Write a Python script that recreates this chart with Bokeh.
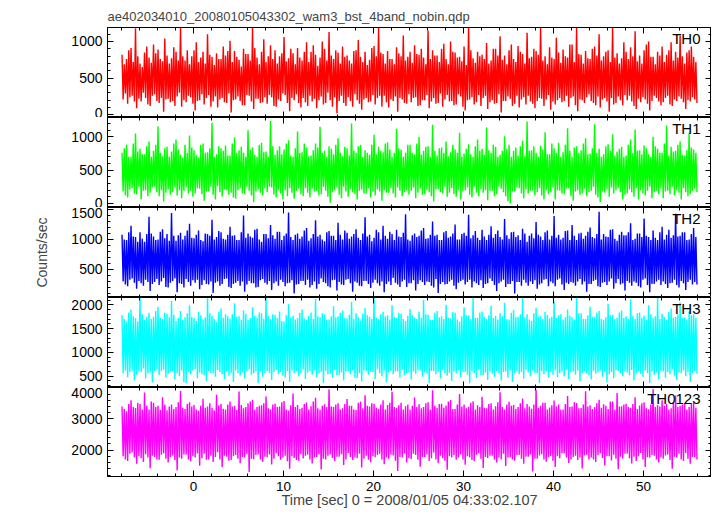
import numpy as np
from bokeh.plotting import figure
from bokeh.layouts import column
from bokeh.models import (Range1d, LinearAxis, SingleIntervalTicker, Label,
                          ColumnDataSource, InlineStyleSheet)
from bokeh.embed import file_html
from bokeh.resources import INLINE

title_text = "ae402034010_20080105043302_wam3_bst_4band_nobin.qdp"
x_label = "Time [sec] 0 = 2008/01/05 04:33:02.107"
y_label = "Counts/sec"
panel_names = ["TH0", "TH1", "TH2", "TH3", "TH0123"]
panel_colors = ["#ff0000", "#00ff00", "#0000ff", "#00ffff", "#ff00ff"]
t_first = -7.9375  # time of first sample of the light curve (s)
t_step = 0.125     # samples alternate: local maximum, local minimum

# local maxima / minima of each light curve in successive 0.25 s slices (counts/sec)
th0_hi = [820, 690, 760, 880, 910, 720, 1180, 800, 700, 650, 850, 930, 780, 710, 960, 840,
          890, 760, 730, 1040, 810, 700, 770, 920, 860, 740, 1190, 800, 740, 880, 690, 800,
          880, 990, 720, 780, 860, 700, 1100, 820, 790, 680, 840, 760, 760, 930, 810, 870,
          1010, 720, 870, 790, 750, 660, 900, 830, 830, 740, 1190, 910, 780, 690, 860, 1030,
          720, 800, 950, 760, 880, 700, 800, 840, 1060, 730, 770, 900, 840, 690, 910, 780,
          740, 860, 990, 720, 860, 950, 820, 670, 780, 1000, 900, 740, 1130, 810, 760, 880,
          850, 700, 930, 790, 810, 740, 700, 870, 880, 1020, 790, 720, 860, 680, 750, 910,
          940, 800, 1190, 850, 830, 700, 870, 760, 760, 690, 920, 840, 800, 1080, 740, 790,
          860, 710, 950, 830, 820, 900, 780, 690, 1150, 760, 880, 810, 810, 720, 900, 970,
          760, 690, 1000, 860, 850, 780, 790, 730, 930, 680, 1190, 880, 770, 710, 860, 800,
          820, 760, 980, 700, 740, 900, 900, 810, 1070, 750, 810, 690, 880, 960, 760, 720,
          940, 860, 830, 700, 1120, 770, 790, 900, 870, 820, 1190, 740, 800, 690, 920, 780,
          760, 1050, 850, 710, 890, 800, 780, 960, 960, 720, 1190, 830, 820, 700, 870, 770,
          760, 900, 930, 810, 1100, 740, 800, 860, 880, 720, 1190, 780, 840, 700, 770, 990,
          860, 760, 920, 800, 1140, 730, 810, 700, 880, 960, 1000, 790, 790, 690, 860, 810,
          930, 720, 820, 880, 990, 740, 860, 780, 1080, 800, 700, 850, 880, 930, 790, 720]
th0_lo = [210, 290, 150, 240, 260, 180, 90, 220, 180, 300, 230, 140, 120, 260, 280, 190,
          160, 230, 40, 210, 220, 170, 190, 120, 250, 300, 110, 200, 170, 260, 240, 150,
          60, 190, 200, 280, 140, 230, 270, 110, 180, 250, 100, 210, 230, 170, 160, 290,
          30, 200, 210, 250, 190, 130, 130, 270, 260, 180, 80, 220, 220, 160, 170, 240,
          150, 270, 240, 120, 110, 210, 190, 290, 270, 160, 50, 230, 200, 280, 160, 100,
          230, 170, 120, 260, 180, 220, 90, 200, 250, 140, 160, 300, 200, 110, 240, 20,
          190, 260, 160, 120, 240, 190, 110, 280, 200, 150, 70, 210, 230, 170, 180, 270,
          140, 230, 260, 110, 260, 170, 100, 210, 190, 250, 40, 230, 210, 160, 150, 280,
          170, 230, 240, 120, 130, 200, 200, 270, 90, 180, 230, 150, 160, 290, 110, 210,
          270, 180, 190, 130, 140, 280, 250, 110, 60, 200, 210, 240, 140, 170, 270, 120,
          230, 260, 80, 170, 200, 150, 160, 280, 30, 190, 190, 250, 220, 120, 150, 260,
          100, 210, 240, 140, 260, 180, 150, 90, 190, 230, 220, 120, 210, 270, 70, 180,
          140, 200, 230, 170, 190, 260, 110, 230, 250, 130, 50, 210, 200, 160, 240, 280,
          190, 160, 130, 250, 100, 210, 230, 180, 40, 230, 140, 160, 250, 200, 130, 270,
          200, 260, 180, 120, 80, 220, 170, 240, 210, 150, 60, 190, 260, 230, 180, 130,
          170, 230, 260, 140, 120, 210, 190, 250, 220, 170, 80, 200, 180, 240, 210, 160]
th1_hi = [760, 830, 880, 700, 700, 900, 1050, 780, 820, 740, 740, 860, 930, 700, 790, 880,
          1160, 760, 710, 830, 850, 700, 780, 900, 960, 810, 730, 690, 880, 760, 1020, 840,
          800, 720, 690, 880, 900, 760, 770, 830, 1210, 700, 740, 860, 830, 790, 870, 720,
          720, 900, 990, 760, 800, 850, 760, 700, 1100, 810, 840, 730, 700, 880, 910, 770,
          780, 700, 1240, 860, 730, 800, 860, 740, 810, 900, 950, 720, 700, 830, 1080, 760,
          770, 900, 840, 710, 720, 800, 900, 840, 1150, 760, 790, 700, 860, 820, 740, 880,
          980, 760, 710, 850, 830, 720, 1200, 790, 760, 860, 880, 700, 800, 760, 730, 880,
          1030, 740, 850, 790, 770, 900, 920, 810, 700, 760, 1120, 830, 810, 700, 760, 880,
          880, 760, 740, 900, 1000, 730, 790, 850, 860, 700, 1180, 790, 720, 830, 840, 760,
          930, 710, 770, 880, 810, 760, 1060, 700, 750, 820, 890, 740, 700, 860, 960, 790,
          820, 730, 1140, 800, 760, 880, 850, 700, 730, 790, 1010, 820, 880, 700, 790, 840,
          720, 860, 940, 710, 1230, 790, 800, 860, 760, 700, 870, 810, 1070, 740, 740, 900,
          830, 760, 910, 700, 770, 880, 1130, 790, 700, 840, 860, 760, 800, 900, 980, 740,
          750, 830, 1190, 760, 820, 700, 740, 860, 890, 790, 1040, 720, 780, 820, 850, 700,
          720, 880, 960, 760, 1110, 790, 800, 740, 870, 830, 740, 700, 1000, 860, 820, 760,
          760, 900, 1170, 720, 850, 780, 790, 880, 930, 730, 720, 800, 1060, 840, 810, 760]
th1_lo = [180, 120, 90, 210, 230, 150, 140, 250, 60, 190, 200, 110, 160, 240, 250, 170,
          110, 200, 30, 160, 210, 130, 170, 240, 120, 200, 80, 190, 240, 150, 190, 100,
          150, 230, 220, 140, 40, 180, 180, 250, 130, 60, 260, 170, 100, 210, 200, 130,
          160, 90, 70, 200, 230, 150, 140, 250, 190, 120, 20, 180, 210, 160, 120, 230,
          170, 250, 240, 130, 90, 200, 150, 60, 200, 110, 230, 160, 70, 190, 220, 140,
          110, 230, 160, 90, 220, 180, 190, 120, 140, 250, 190, 100, 10, 170, 200, 240,
          130, 80, 250, 180, 100, 210, 170, 140, 60, 190, 210, 150, 150, 230, 90, 180,
          120, 210, 180, 40, 200, 160, 160, 230, 150, 90, 240, 190, 110, 170, 200, 130,
          190, 240, 80, 160, 220, 130, 140, 200, 170, 110, 30, 210, 210, 170, 150, 250,
          100, 160, 230, 140, 100, 200, 60, 180, 200, 240, 130, 90, 250, 160, 110, 210,
          160, 200, 50, 190, 190, 110, 140, 250, 220, 170, 110, 30, 0, 180, 180, 240,
          230, 150, 80, 210, 150, 190, 200, 120, 170, 230, 120, 60, 200, 140, 170, 240,
          60, 200, 190, 150, 140, 220, 230, 110, 40, 180, 200, 130, 150, 220, 110, 170,
          190, 250, 130, 90, 20, 180, 160, 210, 100, 240, 150, 200, 230, 170, 60, 130,
          150, 210, 170, 100, 230, 60, 200, 150, 120, 190, 250, 80, 170, 190, 140, 220,
          80, 180, 190, 140, 250, 120, 200, 160, 60, 230, 170, 110, 140, 190, 220, 170]
th2_hi = [1080, 1000, 990, 1120, 1230, 1050, 1040, 960, 1120, 1010, 960, 1090, 1380, 1100, 1050, 990,
          1000, 1130, 1170, 1020, 1090, 980, 1440, 1060, 980, 1070, 1110, 1000, 1060, 1150, 1260, 1030,
          1020, 1080, 1150, 990, 970, 1100, 1090, 1060, 1330, 1000, 1040, 1140, 1120, 1010, 1000, 1080,
          1210, 1060, 1070, 990, 990, 1120, 1400, 1030, 1100, 1050, 1030, 1160, 1180, 1000, 960, 1090,
          1090, 1020, 1240, 1070, 1010, 1130, 1130, 990, 1060, 1100, 1450, 1040, 990, 1080, 1100, 1010,
          1050, 1150, 1190, 980, 1020, 1090, 1320, 1050, 1080, 1000, 970, 1120, 1140, 1060, 1060, 990,
          1280, 1080, 1000, 1150, 1110, 1010, 1050, 1090, 1170, 1030, 990, 1100, 1370, 1050, 1080, 970,
          1030, 1160, 1120, 1000, 1230, 1060, 1010, 1130, 1090, 990, 1160, 1050, 1040, 1110, 1420, 1000,
          980, 1070, 1100, 1040, 1060, 1150, 1190, 1010, 1020, 1080, 1300, 1060, 1080, 990, 990, 1120,
          1140, 1030, 1050, 1100, 1250, 1000, 1000, 1090, 1110, 1060, 1410, 1020, 1070, 1140, 1030, 990,
          1160, 1050, 990, 1080, 1220, 1030, 1090, 1150, 1040, 1000, 1340, 1070, 1010, 1120, 1130, 1040,
          1070, 990, 1180, 1100, 960, 1060, 1100, 1020, 1290, 1080, 1050, 990, 1120, 1150, 1000, 1060,
          1390, 1030, 1080, 1000, 1030, 1140, 1150, 990, 1240, 1060, 990, 1100, 1110, 1010, 1060, 1130,
          1200, 1040, 1020, 1090, 1460, 1000, 1090, 1050, 1040, 1160, 1170, 1010, 980, 1080, 1130, 1070,
          1070, 1120, 1270, 990, 1010, 1100, 1100, 1040, 1350, 1060, 1040, 990, 1150, 1030, 990, 1120,
          1210, 1000, 1080, 1160, 1030, 1070, 1430, 1050, 1060, 1120, 1120, 990, 1000, 1090, 1190, 1040]
th2_lo = [300, 250, 220, 330, 350, 280, 180, 310, 270, 230, 330, 290, 140, 260, 290, 340,
          240, 300, 360, 210, 200, 280, 310, 350, 120, 270, 260, 200, 340, 290, 230, 320,
          280, 330, 170, 240, 320, 260, 250, 300, 110, 280, 300, 230, 260, 340, 350, 210,
          190, 260, 280, 310, 230, 300, 130, 250, 310, 270, 270, 200, 210, 320, 340, 280,
          250, 310, 160, 270, 300, 230, 330, 290, 220, 270, 280, 320, 100, 250, 260, 310,
          310, 240, 330, 200, 240, 300, 180, 260, 350, 290, 270, 220, 200, 320, 330, 150,
          290, 250, 240, 330, 340, 270, 130, 300, 280, 230, 220, 310, 310, 260, 190, 280,
          330, 270, 230, 300, 120, 260, 300, 240, 360, 280, 250, 210, 300, 330, 210, 270,
          270, 320, 150, 260, 320, 290, 240, 300, 290, 230, 200, 340, 110, 260, 290, 250,
          260, 300, 330, 230, 170, 280, 310, 330, 250, 290, 330, 200, 300, 270, 240, 320,
          190, 260, 270, 350, 310, 240, 140, 270, 300, 330, 210, 260, 260, 310, 100, 290,
          290, 230, 330, 280, 230, 300, 260, 320, 180, 250, 270, 330, 340, 220, 300, 270,
          220, 330, 350, 250, 160, 280, 260, 290, 280, 230, 300, 340, 250, 300, 130, 260,
          260, 310, 330, 220, 210, 280, 290, 240, 300, 350, 180, 270, 340, 250, 270, 150,
          310, 280, 230, 300, 280, 220, 200, 330, 350, 240, 120, 260, 260, 300, 330, 240,
          300, 260, 190, 270, 280, 330, 240, 200, 310, 270, 160, 290, 330, 250, 290, 250]
th3_hi = [1780, 1700, 1650, 1840, 1900, 1760, 1720, 1650, 2150, 1800, 1680, 1750, 1830, 1700, 1750, 1870,
          1960, 1720, 1700, 1830, 1810, 1740, 2080, 1790, 1660, 1720, 1870, 1680, 1740, 1820, 1990, 1750,
          1720, 1660, 1850, 1780, 1690, 1740, 2150, 1820, 1770, 1700, 1640, 1850, 1920, 1730, 1800, 1760,
          1710, 1800, 2030, 1750, 1760, 1680, 1880, 1810, 1680, 1720, 1950, 1770, 1730, 1840, 1820, 1700,
          2150, 1760, 1700, 1800, 1790, 1720, 1860, 1660, 1650, 1780, 2010, 1740, 1770, 1690, 1720, 1830,
          1900, 1710, 1680, 1770, 1840, 1700, 2120, 1760, 1740, 1820, 1800, 1680, 1690, 1760, 1970, 1740,
          1760, 1830, 1880, 1720, 1710, 1790, 2060, 1700, 1820, 1740, 1670, 1810, 1930, 1780, 1750, 1700,
          2150, 1730, 1700, 1800, 1850, 1760, 1780, 1690, 1990, 1750, 1720, 1830, 1810, 1700, 1660, 1770,
          1910, 1780, 1740, 1700, 1860, 1720, 2100, 1800, 1790, 1680, 1680, 1830, 1870, 1740, 1760, 1700,
          2000, 1730, 1710, 1850, 1830, 1690, 1650, 1760, 1950, 1780, 1780, 1700, 2150, 1720, 1730, 1840,
          1860, 1750, 1700, 1780, 1980, 1720, 1770, 1690, 1820, 1760, 2040, 1700, 1690, 1830, 1890, 1740,
          1750, 1800, 2150, 1740, 1800, 1690, 1660, 1820, 1940, 1760, 1760, 1700, 1850, 1790, 1710, 1750,
          2070, 1720, 1780, 1800, 1690, 1740, 1900, 1770, 1740, 1690, 2150, 1820, 1820, 1700, 1700, 1780,
          1960, 1750, 1750, 1830, 1870, 1700, 1680, 1740, 2020, 1780, 1790, 1700, 1730, 1840, 1880, 1720,
          1760, 1700, 2110, 1760, 1700, 1820, 1840, 1730, 1770, 1680, 1990, 1800, 1720, 1760, 2150, 1700,
          1810, 1740, 1690, 1850, 1920, 1730, 1750, 1800, 2050, 1720, 1740, 1690, 1860, 1780, 1800, 1730]
th3_lo = [560, 620, 480, 590, 620, 410, 530, 600, 590, 660, 450, 560, 580, 370, 610, 640,
          520, 610, 640, 470, 550, 600, 600, 430, 570, 500, 620, 380, 360, 590, 540, 620,
          650, 460, 580, 540, 520, 400, 610, 570, 560, 490, 630, 590, 540, 440, 600, 510,
          570, 380, 620, 560, 510, 580, 450, 600, 640, 530, 560, 610, 350, 600, 490, 560,
          610, 570, 420, 590, 630, 540, 590, 510, 470, 610, 380, 620, 560, 600, 500, 570,
          640, 440, 580, 610, 530, 620, 480, 560, 590, 360, 610, 540, 550, 470, 630, 520,
          520, 580, 410, 600, 600, 540, 620, 470, 460, 570, 390, 620, 610, 530, 590, 590,
          440, 640, 560, 500, 620, 370, 580, 610, 540, 600, 600, 470, 630, 520, 560, 580,
          430, 600, 550, 620, 620, 490, 580, 550, 360, 610, 610, 540, 590, 450, 630, 560,
          510, 570, 400, 600, 560, 620, 480, 590, 590, 530, 350, 610, 570, 460, 640, 520,
          520, 580, 420, 600, 550, 490, 610, 560, 410, 590, 600, 470, 620, 380, 570, 610,
          540, 590, 450, 630, 580, 500, 620, 570, 560, 360, 610, 540, 600, 470, 590, 530,
          620, 480, 560, 600, 500, 640, 440, 580, 600, 530, 620, 390, 570, 610, 560, 520,
          430, 610, 550, 580, 620, 490, 600, 370, 540, 590, 460, 620, 610, 560, 500, 600,
          580, 520, 630, 410, 560, 600, 550, 490, 620, 570, 360, 600, 530, 580, 440, 610,
          600, 470, 590, 540, 640, 510, 420, 580, 560, 620, 500, 590, 380, 570, 610, 550]
th0123_hi = [3400, 3320, 3250, 3480, 3600, 3380, 3350, 3520, 3480, 3300, 3850, 3420, 3300, 3560, 3520, 3380,
             3420, 3290, 3700, 3460, 3280, 3400, 3460, 3320, 3380, 3540, 3900, 3360, 3320, 3480, 3540, 3400,
             3450, 3300, 3260, 3420, 3650, 3360, 3400, 3500, 3350, 3280, 3780, 3440, 3480, 3330, 3300, 3460,
             3560, 3400, 3420, 3290, 3880, 3450, 3340, 3380, 3500, 3560, 3620, 3300, 3380, 3420, 3440, 3500,
             3720, 3340, 3310, 3460, 3490, 3380, 3400, 3540, 3580, 3300, 3270, 3440, 3820, 3380, 3450, 3320,
             3360, 3480, 3530, 3300, 3410, 3560, 3680, 3340, 3300, 3420, 3470, 3380, 3950, 3400, 3380, 3460,
             3500, 3300, 3340, 3480, 3640, 3420, 3420, 3300, 3290, 3520, 3560, 3340, 3760, 3420, 3400, 3500,
             3480, 3360, 3330, 3460, 3600, 3300, 3450, 3520, 3870, 3380, 3360, 3440, 3520, 3300, 3410, 3460,
             3300, 3420, 3690, 3380, 3470, 3340, 3380, 3500, 3540, 3300, 3920, 3420, 3350, 3480, 3490, 3360,
             3430, 3560, 3610, 3320, 3320, 3460, 3800, 3400, 3460, 3340, 3390, 3520, 3570, 3300, 3440, 3380,
             3710, 3360, 3340, 3480, 3500, 3300, 3410, 3540, 3860, 3380, 3300, 3460, 3550, 3420, 3450, 3320,
             3380, 3500, 3660, 3340, 3480, 3400, 3330, 3460, 3940, 3360, 3420, 3520, 3520, 3300, 3370, 3440,
             3590, 3400, 3460, 3300, 3300, 3480, 3740, 3380, 3400, 3540, 3510, 3340, 3350, 3460, 3890, 3400,
             3440, 3320, 3380, 3500, 3620, 3360, 3470, 3420, 3320, 3560, 3560, 3300, 3830, 3400, 3410, 3460,
             3490, 3380, 3360, 3480, 3700, 3320, 3430, 3500, 3540, 3340, 3310, 3460, 3960, 3380, 3450, 3400,
             3600, 3420, 3480, 3300, 3340, 3520, 3750, 3380, 3420, 3460, 3510, 3300, 3380, 3500, 3520, 3360]
th0123_lo = [1800, 1700, 1650, 1880, 1920, 1760, 1560, 1800, 1740, 1620, 1870, 1760, 1420, 1820, 1780, 1700,
             1690, 1850, 1900, 1720, 1600, 1780, 1830, 1680, 1350, 1760, 1720, 1860, 1850, 1700, 1640, 1800,
             1760, 1890, 1500, 1740, 1880, 1690, 1700, 1820, 1620, 1780, 1930, 1700, 1450, 1820, 1790, 1660,
             1680, 1800, 1840, 1720, 1580, 1780, 1760, 1870, 1300, 1720, 1710, 1840, 1860, 1700, 1630, 1790,
             1770, 1860, 1540, 1720, 1900, 1800, 1690, 1760, 1820, 1640, 1400, 1800, 1750, 1680, 1660, 1870,
             1730, 1820, 1850, 1700, 1570, 1760, 1780, 1860, 1380, 1720, 1700, 1820, 1860, 1750, 1640, 1790,
             1790, 1870, 1520, 1700, 1910, 1780, 1680, 1760, 1740, 1880, 1440, 1720, 1820, 1690, 1610, 1800,
             1770, 1840, 1880, 1700, 1550, 1760, 1720, 1850, 1830, 1660, 1330, 1780, 1760, 1890, 1600, 1740,
             1710, 1880, 1840, 1690, 1470, 1780, 1780, 1860, 1650, 1740, 1920, 1700, 1580, 1820, 1740, 1660,
             1370, 1800, 1760, 1840, 1690, 1760, 1860, 1700, 1530, 1800, 1770, 1680, 1640, 1850, 1900, 1720,
             1430, 1780, 1750, 1820, 1820, 1690, 1600, 1760, 1700, 1880, 1490, 1760, 1760, 1700, 1660, 1840,
             1840, 1720, 1560, 1790, 1790, 1860, 1310, 1720, 1720, 1830, 1870, 1700, 1630, 1780, 1810, 1660,
             1460, 1800, 1740, 1900, 1900, 1760, 1590, 1700, 1780, 1820, 1680, 1760, 1410, 1830, 1850, 1700,
             1760, 1700, 1620, 1840, 1890, 1750, 1510, 1800, 1800, 1670, 1850, 1720, 1390, 1790, 1730, 1880,
             1880, 1740, 1570, 1790, 1650, 1800, 1910, 1700, 1460, 1770, 1760, 1840, 1820, 1700, 1600, 1760,
             1720, 1830, 1860, 1680, 1400, 1790, 1760, 1880, 1700, 1650, 1910, 1720, 1560, 1780, 1770, 1700]

panel_hi = [th0_hi, th1_hi, th2_hi, th3_hi, th0123_hi]
panel_lo = [th0_lo, th1_lo, th2_lo, th3_lo, th0123_lo]

# layout / style
FONT = "Liberation Sans"
X_RANGE = (-9.55, 57.55)
Y_RANGES = [(-37, 1191), (-60, 1290), (33, 1533), (263, 2153), (1153, 4010)]
Y_MAJOR = [500, 500, 500, 500, 1000]
FRAME_W = 604
FRAME_H = [90, 90, 90, 90, 89]

css = InlineStyleSheet(css=":host, .bk-Canvas, .bk-layer, svg { overflow: visible !important; }")

x_range = Range1d(*X_RANGE)
x_ticker = SingleIntervalTicker(interval=10, num_minor_ticks=5)


def style_axis(ax, show_labels, size="13px"):
    ax.major_tick_in = 6
    ax.major_tick_out = 0
    ax.minor_tick_in = 3
    ax.minor_tick_out = 0
    ax.axis_line_color = "black"
    ax.major_tick_line_color = "black"
    ax.minor_tick_line_color = "black"
    if show_labels:
        ax.major_label_text_font = FONT
        ax.major_label_text_font_size = size
        ax.major_label_text_color = "black"
    else:
        ax.major_label_text_font_size = "1px"
        ax.major_label_text_color = None
        ax.major_label_standoff = 0


figs = []
n = len(panel_names)
for i in range(n):
    hi = np.asarray(panel_hi[i], dtype=float)
    lo = np.asarray(panel_lo[i], dtype=float)
    rate = np.empty(2 * len(hi))
    rate[0::2] = hi
    rate[1::2] = lo
    t = t_first + t_step * np.arange(len(rate))
    src = ColumnDataSource(dict(time=t, rate=rate))

    first = i == 0
    last = i == n - 1
    p = figure(frame_width=FRAME_W, frame_height=FRAME_H[i],
               x_range=x_range, y_range=Range1d(*Y_RANGES[i]),
               output_backend="svg", toolbar_location=None,
               x_axis_location=None, y_axis_location=None,
               min_border=0, min_border_left=107, min_border_right=0,
               min_border_top=27 if first else 0,
               min_border_bottom=40 if last else 0)
    p.stylesheets = [css]
    p.grid.visible = False
    p.outline_line_color = "black"
    p.background_fill_color = "white"
    p.border_fill_color = None

    y_ticker = SingleIntervalTicker(interval=Y_MAJOR[i], num_minor_ticks=5)

    left = LinearAxis(ticker=y_ticker)
    style_axis(left, True, "14px")
    right = LinearAxis(ticker=y_ticker)
    style_axis(right, False)
    top = LinearAxis(ticker=x_ticker)
    style_axis(top, False)
    bottom = LinearAxis(ticker=x_ticker)
    style_axis(bottom, last, "13.5px")
    if last:
        bottom.major_label_standoff = 5
        bottom.axis_label = x_label
        bottom.axis_label_text_font = FONT
        bottom.axis_label_text_font_size = "14.5px"
        bottom.axis_label_text_font_style = "normal"
        bottom.axis_label_standoff = -2
    if i == 2:
        left.axis_label = y_label
        left.axis_label_text_font = FONT
        left.axis_label_text_font_size = "14px"
        left.axis_label_text_font_style = "normal"
        left.axis_label_standoff = 18

    p.add_layout(left, "left")
    p.add_layout(right, "right")
    p.add_layout(top, "above")
    p.add_layout(bottom, "below")

    p.line("time", "rate", source=src, line_color=panel_colors[i], line_width=1.4)

    y0, y1 = Y_RANGES[i]
    p.add_layout(Label(x=56.33, y=y1 - 2 * (y1 - y0) / FRAME_H[i], text=panel_names[i],
                       text_align="right", text_baseline="top",
                       text_font=FONT, text_font_size="15px", text_color="black"))

    if first:
        p.title.text = title_text
        p.title.text_font = FONT
        p.title.text_font_size = "13px"
        p.title.text_font_style = "normal"
        p.title.align = "left"
        p.title.standoff = 8
    figs.append(p)

layout = column(*figs, spacing=0)
open("out.html", "w").write(file_html(layout, INLINE))
